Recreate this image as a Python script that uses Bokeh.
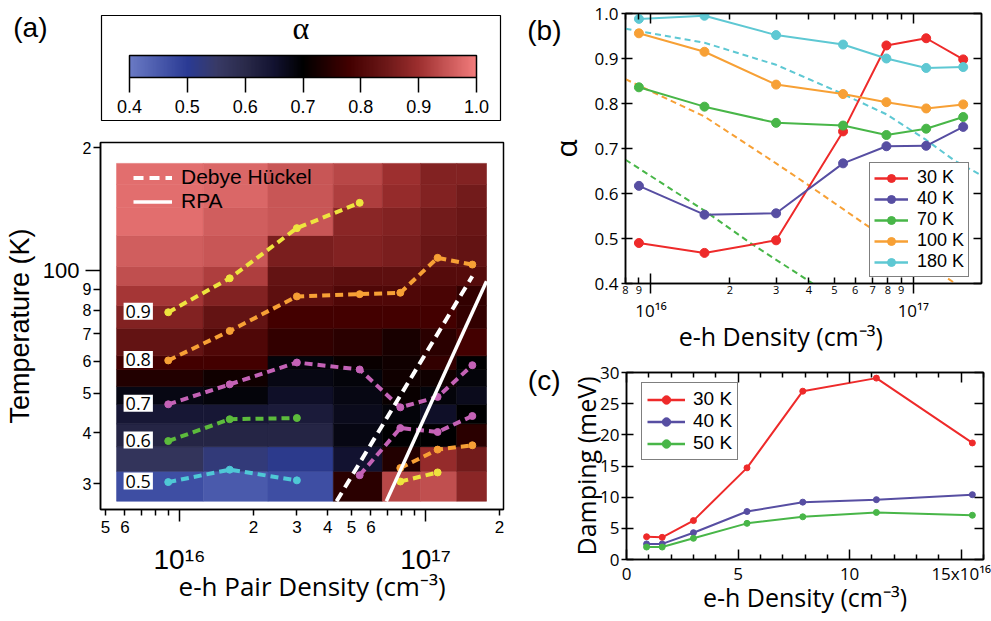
import numpy as np
from bokeh.plotting import figure
from bokeh.models import (ColumnDataSource, FixedTicker, LogAxis, LinearAxis, Label,
                          Legend, LegendItem, LinearColorMapper, ColorBar, Range1d)
from bokeh.layouts import row, column
from bokeh.embed import file_html
from bokeh.resources import INLINE
from bokeh.core.properties import value
from bokeh.transform import linear_cmap

FH = "Liberation Sans"
FM = "Open Sans"
NB = "\u00a0"

# ---------------------------------------------------------------- data
density = [9.0e15, 1.6e16, 3.0e16, 5.4e16, 7.9e16, 1.12e17, 1.55e17]

# (a) alpha map: cell edges and values (rows bottom -> top)
dens_edges = [5.55e15, 1.25e16, 2.29e16, 4.22e16, 6.68e16, 9.55e16, 1.34e17, 1.77e17]
temp_edges = [27.2, 32.2, 37.0, 42.1, 47.0, 52.0, 57.2, 61.8, 72.2, 82.0, 91.9,
              102.3, 121.8, 142.6, 162.5, 183.0]
alpha_grid = [
    [0.47, 0.45, 0.47, 0.75, 0.93, 0.94, 0.88],
    [0.57, 0.53, 0.51, 0.65, 0.74, 0.89, 0.85],
    [0.61, 0.61, 0.61, 0.68, 0.70, 0.70, 0.75],
    [0.64, 0.64, 0.63, 0.67, 0.69, 0.66, 0.70],
    [0.68, 0.69, 0.66, 0.68, 0.71, 0.69, 0.67],
    [0.74, 0.72, 0.68, 0.69, 0.72, 0.72, 0.69],
    [0.78, 0.78, 0.69, 0.71, 0.72, 0.76, 0.70],
    [0.83, 0.80, 0.76, 0.75, 0.73, 0.75, 0.78],
    [0.87, 0.83, 0.78, 0.78, 0.78, 0.78, 0.76],
    [0.91, 0.87, 0.82, 0.80, 0.80, 0.79, 0.76],
    [0.94, 0.92, 0.83, 0.82, 0.82, 0.81, 0.81],
    [0.96, 0.95, 0.86, 0.87, 0.86, 0.84, 0.83],
    [0.98, 0.96, 0.95, 0.88, 0.87, 0.85, 0.84],
    [0.98, 0.97, 0.95, 0.92, 0.89, 0.87, 0.85],
    [0.98, 0.97, 0.95, 0.93, 0.90, 0.87, 0.87],
]

# (a) iso-alpha contours (temperature at each density)
c09_T = [79.0, 95.7, 127.0, 146.5]
c09b_T = [30.4, 32.0]
c08_T = [60.2, 71.1, 86.4, 87.5, 88.2, 107.4, 103.4]
c08b_T = [32.8, 36.4, 37.3]
c07_T = [47.0, 52.6, 59.5, 57.2, 46.2, 49.0, 58.6]
c07b_T = [31.5, 41.1, 40.2, 44.0]
c06_T = [38.2, 43.2, 43.5]
c05_T = [30.3, 32.5, 30.6]
contour_levels = ["0.9", "0.8", "0.7", "0.6", "0.5"]

# (a) Mott criteria
dh_dens = [4.35e16, 1.55e17]
dh_temp = [27.2, 96.8]
rpa_dens = [6.93e16, 1.77e17]
rpa_temp = [27.2, 94.1]

# (b) alpha vs density
alpha_30K = [0.490, 0.468, 0.496, 0.738, 0.929, 0.945, 0.898]
alpha_40K = [0.617, 0.553, 0.556, 0.667, 0.705, 0.706, 0.748]
alpha_70K = [0.836, 0.793, 0.757, 0.751, 0.730, 0.744, 0.770]
alpha_100K = [0.956, 0.915, 0.842, 0.821, 0.803, 0.789, 0.798]
alpha_180K = [0.988, 0.995, 0.952, 0.931, 0.900, 0.879, 0.881]
b_labels = ["30 K", "40 K", "70 K", "100 K", "180 K"]
theory180_d = [8e15, 1.6e16, 3e16, 5.4e16, 7.9e16, 1.12e17, 1.43e17, 1.82e17]
theory180_a = [0.966, 0.935, 0.886, 0.821, 0.776, 0.719, 0.674, 0.640]
theory100_d = [8e15, 1.6e16, 3e16, 4e16, 6.5e16, 1.43e17]
theory100_a = [0.854, 0.771, 0.667, 0.618, 0.533, 0.402]
theory70_d = [8e15, 1.6e16, 2.42e16, 4.14e16]
theory70_a = [0.675, 0.562, 0.488, 0.400]

# (c) damping (meV) vs density (1e16 cm^-3)
damp_x = [0.9, 1.6, 3.0, 5.4, 7.9, 11.2, 15.5]
damp_30K = [3.65, 3.55, 6.24, 14.7, 27.0, 29.1, 18.7]
damp_40K = [2.5, 2.5, 4.3, 7.7, 9.2, 9.6, 10.4]
damp_50K = [2.0, 2.0, 3.4, 5.8, 6.85, 7.55, 7.1]
c_labels = ["30 K", "40 K", "50 K"]

# ticks
cbar_ticks = [0.4, 0.5, 0.6, 0.7, 0.8, 0.9, 1.0]
cbar_labels = ["0.4", "0.5", "0.6", "0.7", "0.8", "0.9", "1.0"]
a_temp_ticks = [30, 40, 50, 60, 70, 80, 90, 200]
a_temp_labels = ["3", "4", "5", "6", "7", "8", "9", "2"]
a_temp_major = [100]
a_temp_major_labels = ["100"]
a_dens_ticks = [5e15, 6e15, 7e15, 8e15, 9e15, 2e16, 3e16, 4e16, 5e16, 6e16, 7e16, 8e16, 9e16, 2e17]
a_dens_labels = ["5", "6", "", "", "", "2", "3", "4", "5", "6", "", "", "", "2"]
decades = [1e16, 1e17]
decade_labels = ["10\u00b9\u2076", "10\u00b9\u2077"]
b_dens_ticks = [8e15, 9e15, 2e16, 3e16, 4e16, 5e16, 6e16, 7e16, 8e16, 9e16]
b_dens_labels = ["8", "9", "2", "3", "4", "5", "6", "7", "8", "9"]
c_x_ticks = [0, 5, 10, 15]
c_x_labels = ["0", "5", "10", "15x10\u00b9\u2076"]
c_x_minor = [1, 2, 3, 4, 6, 7, 8, 9, 11, 12, 13, 14, 16]
c_y_ticks = [0, 5, 10, 15, 20, 25, 30]

# colour map of alpha
cmap_pos = [0.40, 0.50, 0.55, 0.60, 0.65, 0.70, 0.78, 0.85, 0.90, 0.95, 1.00]
cmap_cols = ["#6a7ac4", "#2a3a94", "#383a66", "#2a2a4a", "#121230", "#000000",
             "#420000", "#701a1a", "#9c2e2e", "#c85656", "#f27c7c"]


def interp_palette(pos, cols, n=256):
    rgb = np.array([[int(c[i:i + 2], 16) for i in (1, 3, 5)] for c in cols], dtype=float)
    t = np.linspace(pos[0], pos[-1], n)
    ch = [np.interp(t, pos, rgb[:, k]) for k in range(3)]
    return ["#%02x%02x%02x" % (int(round(r)), int(round(g)), int(round(b))) for r, g, b in zip(*ch)]


PALETTE = interp_palette(cmap_pos, cmap_cols)


def base_fig(**kw):
    p = figure(output_backend="svg", toolbar_location=None, title=None, frame_align=False, **kw)
    p.grid.visible = False
    p.outline_line_color = "black"
    p.outline_line_width = 1.5
    p.border_fill_color = "white"
    p.background_fill_color = "white"
    return p


def style_axis(ax, ticks, labels, font, size, tin=0, tout=0, minor=None, min_in=0, min_out=0,
               standoff=3, line=True):
    ax.ticker = FixedTicker(ticks=ticks, minor_ticks=minor or [])
    ax.major_label_overrides = {t: l for t, l in zip(ticks, labels)}
    ax.major_tick_in = tin
    ax.major_tick_out = tout
    ax.minor_tick_in = min_in
    ax.minor_tick_out = min_out
    ax.major_tick_line_width = 1.5
    ax.minor_tick_line_width = 1.5
    ax.major_tick_line_color = "black" if (tin or tout) else None
    ax.minor_tick_line_color = "black" if (min_in or min_out) else None
    ax.major_label_text_font = font
    ax.major_label_text_font_size = "%dpx" % size
    ax.major_label_text_color = "black"
    ax.major_label_standoff = standoff
    ax.axis_line_color = "black" if line else None
    ax.axis_line_width = 1.5


def axis_title(ax, text, font, size, standoff):
    ax.axis_label = text
    ax.axis_label_text_font = font
    ax.axis_label_text_font_size = "%dpx" % size
    ax.axis_label_text_font_style = "normal"
    ax.axis_label_text_color = "black"
    ax.axis_label_standoff = standoff


def panel_tag(ax, y, text, standoff):
    style_axis(ax, [y], [text], FH, 28, standoff=standoff, line=False)


# ---------------------------------------------------------------- colour bar box
p_cb = base_fig(width=524, height=128, x_range=Range1d(0, 1), y_range=Range1d(0, 1),
                min_border_left=101, min_border_right=24, min_border_top=15, min_border_bottom=8)
p_cb.outline_line_width = 1.2
p_cb.xaxis.visible = False
panel_tag(p_cb.yaxis[0], 0.886, "(a)", 54)
mapper = LinearColorMapper(palette=PALETTE, low=0.4, high=1.0)
cbar = ColorBar(color_mapper=mapper, orientation="horizontal", location=(28, 5),
                width=347, height=22, padding=0, margin=0,
                ticker=FixedTicker(ticks=cbar_ticks),
                major_label_overrides={t: l for t, l in zip(cbar_ticks, cbar_labels)},
                major_tick_out=15, major_tick_in=0, major_tick_line_color="black",
                major_tick_line_width=1.5, minor_tick_line_color=None,
                label_standoff=7, major_label_text_font=FH, major_label_text_font_size="18px",
                major_label_text_color="black",
                bar_line_color="black", bar_line_width=1.5,
                border_line_color=None, background_fill_alpha=0)
p_cb.add_layout(cbar)
p_cb.add_layout(Label(x=199.5, y=93, x_units="screen", y_units="screen", text="\u03b1",
                      text_align="center", text_baseline="middle", text_color="black",
                      text_font="Liberation Serif", text_font_size="32px"))

# ---------------------------------------------------------------- panel (a)
p_a = base_fig(width=524, height=493, x_axis_type="log", y_axis_type="log",
               x_range=Range1d(4.774e15, 2.075e17), y_range=Range1d(25.96, 205.9),
               min_border_left=100, min_border_right=21, min_border_top=14, min_border_bottom=112)
ya1 = p_a.yaxis[0]
style_axis(ya1, a_temp_ticks, a_temp_labels, FH, 16, tout=7, minor=a_temp_major, min_out=15, standoff=-6)
ya2 = LogAxis()
style_axis(ya2, a_temp_major, a_temp_major_labels, FH, 22, standoff=0, line=False)
axis_title(ya2, "Temperature (K)", FH, 27, 5)
p_a.add_layout(ya2, "left")
xa1 = p_a.xaxis[0]
style_axis(xa1, a_dens_ticks, a_dens_labels, FH, 17, tout=6, minor=decades, min_out=12, standoff=-1)
xa2 = LogAxis()
style_axis(xa2, decades, decade_labels, FH, 28, standoff=8, line=False)
axis_title(xa2, NB * 3 + "e-h Pair Density (cm\u207b\u00b3)", FM, 26, -10)
p_a.add_layout(xa2, "below")

hm = dict(left=[], right=[], bottom=[], top=[], val=[])
for i in range(len(temp_edges) - 1):
    for j in range(len(dens_edges) - 1):
        hm["left"].append(dens_edges[j])
        hm["right"].append(dens_edges[j + 1])
        hm["bottom"].append(temp_edges[i])
        hm["top"].append(temp_edges[i + 1])
        hm["val"].append(alpha_grid[i][j])
cm = linear_cmap("val", PALETTE, 0.4, 1.0)
p_a.quad(left="left", right="right", bottom="bottom", top="top", source=ColumnDataSource(hm),
         fill_color=cm, line_color=cm, line_width=0.6)

contours = [
    (density[:4], c09_T, "#eee43e"), (density[4:6], c09b_T, "#eee43e"),
    (density, c08_T, "#f7a035"), (density[4:], c08b_T, "#f7a035"),
    (density, c07_T, "#c462b6"), (density[3:], c07b_T, "#c462b6"),
    (density[:3], c06_T, "#5cbb3c"), (density[:3], c05_T, "#4fc8d6"),
]
for d, t, col in contours:
    p_a.line(d, t, line_color=col, line_width=4, line_dash="8 5")
    p_a.scatter(d, t, size=7, fill_color=col, line_color=col)

dh_r = p_a.line(dh_dens, dh_temp, line_color="white", line_width=4, line_dash="10 6")
rpa_r = p_a.line(rpa_dens, rpa_temp, line_color="white", line_width=3.5)

lab_src = ColumnDataSource(dict(x=[density[0]] * 5,
                                y=[c09_T[0], c08_T[0], c07_T[0], c06_T[0], c05_T[0]],
                                text=contour_levels))
p_a.text(x="x", y="y", text="text", source=lab_src, x_offset=-30, y_offset=-1,
         text_align="center", text_baseline="middle", text_font=value(FM),
         text_font_size="18px", text_color="black", background_fill_color="white", padding=2)

leg_a = Legend(items=[LegendItem(label="Debye H\u00fcckel", renderers=[dh_r]),
                      LegendItem(label="RPA", renderers=[rpa_r])],
               location=(33, 296), padding=0, margin=0, spacing=0,
               glyph_width=39, glyph_height=23, label_height=23, label_standoff=9,
               label_text_font=FH, label_text_font_size="21px", label_text_color="black",
               background_fill_alpha=0, border_line_color=None)
p_a.add_layout(leg_a)

# ---------------------------------------------------------------- panel (b)
p_b = base_fig(width=467, height=355, x_axis_type="log",
               x_range=Range1d(8e15, 1.82e17), y_range=Range1d(0.4, 1.0),
               min_border_left=100, min_border_right=10, min_border_top=13, min_border_bottom=72)
yb = p_b.yaxis[0]
style_axis(yb, cbar_ticks, cbar_labels, FM, 17, tin=7, tout=4, standoff=3)
axis_title(yb, "\u03b1", FM, 30, 6)
yb_tag = LinearAxis()
panel_tag(yb_tag, 0.962, "(b)", -20)
p_b.add_layout(yb_tag, "left")
yb_r = LinearAxis()
style_axis(yb_r, cbar_ticks, [""] * 7, FM, 10, tin=8, standoff=0)
p_b.add_layout(yb_r, "right")
xb1 = p_b.xaxis[0]
style_axis(xb1, b_dens_ticks, b_dens_labels, FM, 11, tin=6, minor=decades, min_in=10, min_out=10, standoff=-8)
xb2 = LogAxis()
style_axis(xb2, decades, decade_labels, FM, 17, standoff=2, line=False)
axis_title(xb2, "e-h Density (cm\u207b\u00b3)" + NB * 7, FM, 25, -6)
p_b.add_layout(xb2, "below")
xb_t = LogAxis()
style_axis(xb_t, b_dens_ticks, [""] * len(b_dens_ticks), FM, 10, tin=6, minor=decades, min_in=10, standoff=0)
p_b.add_layout(xb_t, "above")

B_COL = ["#ee2a2a", "#574ea2", "#48b648", "#f7a035", "#5ec8d3"]
for d, a, col in [(theory180_d, theory180_a, B_COL[4]), (theory100_d, theory100_a, B_COL[3]),
                  (theory70_d, theory70_a, B_COL[2])]:
    p_b.line(d, a, line_color=col, line_width=2, line_dash="6 4")
b_items = []
for series, col, lab in zip([alpha_30K, alpha_40K, alpha_70K, alpha_100K, alpha_180K], B_COL, b_labels):
    p_b.line(density, series, line_color=col, line_width=2)
    p_b.scatter(density, series, size=9, fill_color=col, line_color=col)
    lr = p_b.line(density, series, line_color=col, line_width=2.5, visible=False)
    sr = p_b.scatter(density, series, size=13, fill_color=col, line_color=col, visible=False)
    b_items.append(LegendItem(label=lab, renderers=[lr, sr]))
leg_b = Legend(items=b_items, location=(244, 6), padding=4, margin=0, spacing=0,
               glyph_width=34, glyph_height=20, label_height=20, label_standoff=9,
               label_text_font=FH, label_text_font_size="18px", label_text_color="black",
               background_fill_color="white", background_fill_alpha=1,
               inactive_fill_alpha=0,
               border_line_color="black", border_line_width=1.5)
p_b.add_layout(leg_b)

# ---------------------------------------------------------------- panel (c)
p_c = base_fig(width=467, height=266, x_range=Range1d(0, 16), y_range=Range1d(0, 30),
               min_border_left=101, min_border_right=8, min_border_top=17, min_border_bottom=62)
yc = p_c.yaxis[0]
style_axis(yc, c_y_ticks, [str(v) for v in c_y_ticks], FM, 17, tin=7, tout=5, standoff=2)
axis_title(yc, "Damping (meV)", FM, 25, -6)
yc_tag = LinearAxis()
panel_tag(yc_tag, 28.7, "(c)", 6)
p_c.add_layout(yc_tag, "left")
yc_r = LinearAxis()
style_axis(yc_r, c_y_ticks, [""] * len(c_y_ticks), FM, 10, tin=9, standoff=0)
p_c.add_layout(yc_r, "right")
xc = p_c.xaxis[0]
style_axis(xc, c_x_ticks, c_x_labels, FM, 17, tin=10, minor=c_x_minor, min_in=5, standoff=2)
axis_title(xc, "e-h Density (cm\u207b\u00b3)", FM, 25, -8)
xc_t = LinearAxis()
style_axis(xc_t, c_x_ticks, [""] * 4, FM, 10, tin=10, minor=c_x_minor, min_in=5, standoff=0)
p_c.add_layout(xc_t, "above")

C_COL = ["#ee2a2a", "#574ea2", "#48b648"]
c_items = []
for series, col, lab in zip([damp_30K, damp_40K, damp_50K], C_COL, c_labels):
    p_c.line(damp_x, series, line_color=col, line_width=2)
    p_c.scatter(damp_x, series, size=6, fill_color=col, line_color=col)
    lr = p_c.line(damp_x, series, line_color=col, line_width=2.5, visible=False)
    sr = p_c.scatter(damp_x, series, size=13, fill_color=col, line_color=col, visible=False)
    c_items.append(LegendItem(label=lab, renderers=[lr, sr]))
leg_c = Legend(items=c_items, location=(15, 99), padding=5, margin=0, spacing=0,
               glyph_width=38, glyph_height=21, label_height=21, label_standoff=8,
               label_text_font=FH, label_text_font_size="19px", label_text_color="black",
               background_fill_color="white", background_fill_alpha=1,
               inactive_fill_alpha=0,
               border_line_color="black", border_line_width=1.5)
p_c.add_layout(leg_c)

layout = row(column(p_cb, p_a), column(p_b, p_c))
open("out.html", "w").write(file_html(layout, INLINE))
